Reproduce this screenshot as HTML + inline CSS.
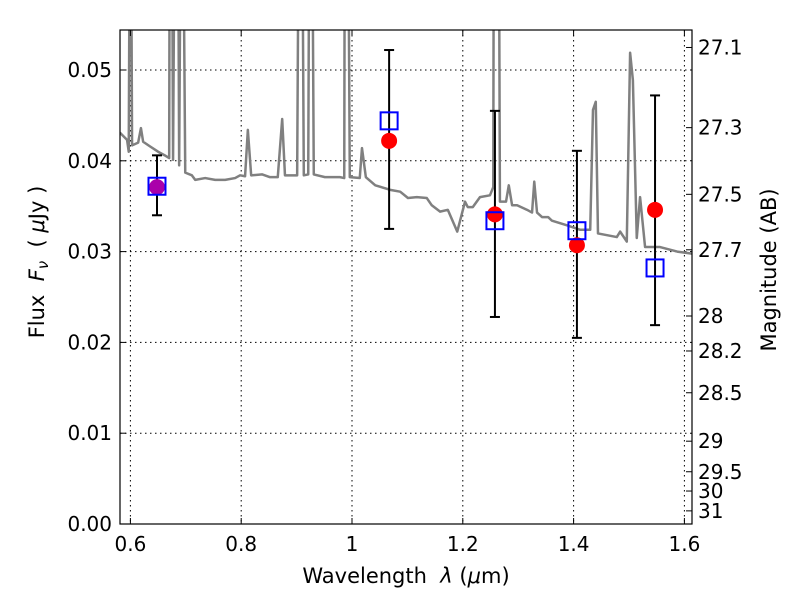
<!DOCTYPE html>
<html><head><meta charset="utf-8"><style>
body{margin:0;background:#fff;}
svg text{font-family:"DejaVu Sans","Liberation Sans",sans-serif;fill:#000;}
</style></head><body>
<svg id="chart" width="800" height="600" xmlns="http://www.w3.org/2000/svg">
<rect x="0" y="0" width="800" height="600" fill="#fff"/>
<defs><clipPath id="clip"><rect x="120" y="30" width="572" height="494"/></clipPath></defs>
<g id="grid"></g>
<g id="spec" clip-path="url(#clip)"></g>
<g id="marks" clip-path="url(#clip)"></g>
<rect x="120" y="30" width="572" height="494" fill="none" stroke="#000" stroke-width="1.2"/>
<g id="axes"></g>
<text x="406" y="583" font-size="21" text-anchor="middle" xml:space="preserve">Wavelength  <tspan font-style="italic">λ</tspan> (<tspan font-style="italic">μ</tspan>m)</text>
<text transform="translate(44,262) rotate(-90)" font-size="21" text-anchor="middle" xml:space="preserve">Flux  <tspan font-style="italic">F</tspan><tspan font-style="italic" font-size="15" dy="4">ν</tspan><tspan dy="-4">  ( </tspan><tspan font-style="italic">μ</tspan>Jy )</text>
<text transform="translate(776,270) rotate(-90)" font-size="21" text-anchor="middle">Magnitude (AB)</text>
</svg>
<script>
const xTicks=[0.6,0.8,1.0,1.2,1.4,1.6];
const xTickLabels=["0.6","0.8","1","1.2","1.4","1.6"];
const yTicks=[0,0.01,0.02,0.03,0.04,0.05];
const yTickLabels=["0.00","0.01","0.02","0.03","0.04","0.05"];
const magTicks=[27.1,27.3,27.5,27.7,28,28.2,28.5,29,29.5,30,31];
const magLabels=["27.1","27.3","27.5","27.7","28","28.2","28.5","29","29.5","30","31"];
const specLam=[0.581,0.594,0.597,0.599,0.601,0.603,0.614,0.619,0.623,0.635,0.650,0.662,0.670,0.671,0.675,0.677,0.680,0.686,0.688,0.691,0.695,0.699,0.711,0.717,0.735,0.753,0.771,0.789,0.798,0.807,0.812,0.818,0.838,0.852,0.866,0.874,0.879,0.901,0.904,0.910,0.913,0.921,0.923,0.928,0.931,0.951,0.978,0.986,0.987,0.993,0.996,1.014,1.018,1.025,1.042,1.069,1.087,1.101,1.117,1.135,1.144,1.159,1.173,1.190,1.204,1.209,1.218,1.231,1.249,1.255,1.256,1.265,1.267,1.278,1.283,1.289,1.298,1.316,1.325,1.329,1.334,1.343,1.354,1.361,1.388,1.412,1.430,1.435,1.440,1.444,1.478,1.484,1.496,1.502,1.507,1.514,1.520,1.529,1.556,1.587,1.610,1.62];
const specFlux=[0.0431,0.0423,0.0410,0.07,0.07,0.0417,0.0420,0.0436,0.0421,0.0416,0.0410,0.0406,0.0403,0.07,0.07,0.0401,0.07,0.07,0.0395,0.07,0.07,0.0387,0.0384,0.0379,0.0381,0.0379,0.0379,0.0381,0.0384,0.0383,0.0434,0.0384,0.0385,0.0382,0.0382,0.0446,0.0384,0.0384,0.07,0.07,0.0384,0.0385,0.07,0.07,0.0385,0.0382,0.0382,0.0381,0.07,0.07,0.0382,0.0381,0.0414,0.0382,0.0373,0.0368,0.0366,0.0359,0.0360,0.0359,0.0351,0.0344,0.0346,0.0322,0.0355,0.0349,0.0349,0.0360,0.0362,0.0371,0.07,0.07,0.0355,0.0355,0.0373,0.0351,0.0351,0.0346,0.0343,0.0377,0.0343,0.0338,0.0338,0.0334,0.0329,0.0324,0.0324,0.0456,0.0465,0.0320,0.0316,0.0322,0.0311,0.0519,0.0489,0.0315,0.0360,0.0305,0.0305,0.0300,0.0298,0.0297];
const obsLam=[0.648,1.067,1.258,1.406,1.547];
const obsFlux=[0.0371,0.0422,0.0341,0.0307,0.0346];
const obsHi=[0.0406,0.0522,0.0455,0.0411,0.0472];
const obsLo=[0.0340,0.0325,0.0228,0.0205,0.0219];
const modelFlux=[0.0372,0.0444,0.0334,0.0323,0.0282];
const obsColors=["#a0a","red","red","red","red"];

const NS="http://www.w3.org/2000/svg";
const X=l=>352+(l-1)*554;
const Y=f=>524-f*9080;
const magToFlux=m=>Math.pow(10,(23.9-m)/2.5);
function mk(tag,attrs,parent){const e=document.createElementNS(NS,tag);for(const k in attrs)e.setAttribute(k,attrs[k]);parent.appendChild(e);return e;}
const grid=document.getElementById('grid'),axes=document.getElementById('axes');
xTicks.forEach((t,i)=>{
 const x=X(t);
 const g=mk('line',{x1:x,x2:x,y1:30,y2:524,stroke:'#000','stroke-dasharray':'1.5,3.5','stroke-width':1},grid);
 
 mk('line',{x1:x,x2:x,y1:524,y2:518,stroke:'#000'},axes);
 mk('line',{x1:x,x2:x,y1:30,y2:36,stroke:'#000'},axes);
 const tx=mk('text',{x:x,y:551,'font-size':20,'text-anchor':'middle'},axes);tx.textContent=xTickLabels[i];
 
});
yTicks.forEach((t,i)=>{
 const y=Y(t);
 const g=mk('line',{x1:120,x2:692,y1:y,y2:y,stroke:'#000','stroke-dasharray':'1.5,3.5','stroke-width':1},grid);
 
 mk('line',{x1:120,x2:126,y1:y,y2:y,stroke:'#000'},axes);
 const tx=mk('text',{x:112,y:y+7,'font-size':20,'text-anchor':'end'},axes);tx.textContent=yTickLabels[i];
 
});
magTicks.forEach((m,i)=>{
 const y=Y(magToFlux(m));
 mk('line',{x1:686,x2:692,y1:y,y2:y,stroke:'#000'},axes);
 const tx=mk('text',{x:698,y:y+7,'font-size':20},axes);tx.textContent=magLabels[i];
 
});
const spec=document.getElementById('spec');
const pl=mk('polyline',{points:specLam.map((l,i)=>X(l)+','+Y(specFlux[i])).join(' '),fill:'none',stroke:'#808080','stroke-width':2.5,'stroke-linejoin':'round'},spec);

const marks=document.getElementById('marks');
obsLam.forEach((l,i)=>{
 const x=X(l);
 const eb=mk('line',{x1:x,x2:x,y1:Y(obsHi[i]),y2:Y(obsLo[i]),stroke:'#000','stroke-width':2},marks);
 
 mk('line',{x1:x-5,x2:x+5,y1:Y(obsHi[i]),y2:Y(obsHi[i]),stroke:'#000','stroke-width':2},marks);
 mk('line',{x1:x-5,x2:x+5,y1:Y(obsLo[i]),y2:Y(obsLo[i]),stroke:'#000','stroke-width':2},marks);
 const c=mk('circle',{cx:x,cy:Y(obsFlux[i]),r:8,fill:obsColors[i]},marks);
 
 const s=mk('rect',{x:x-8.5,y:Y(modelFlux[i])-8.5,width:17,height:17,fill:'none',stroke:'#00f','stroke-width':2},marks);
 
});
</script>
</body></html>
